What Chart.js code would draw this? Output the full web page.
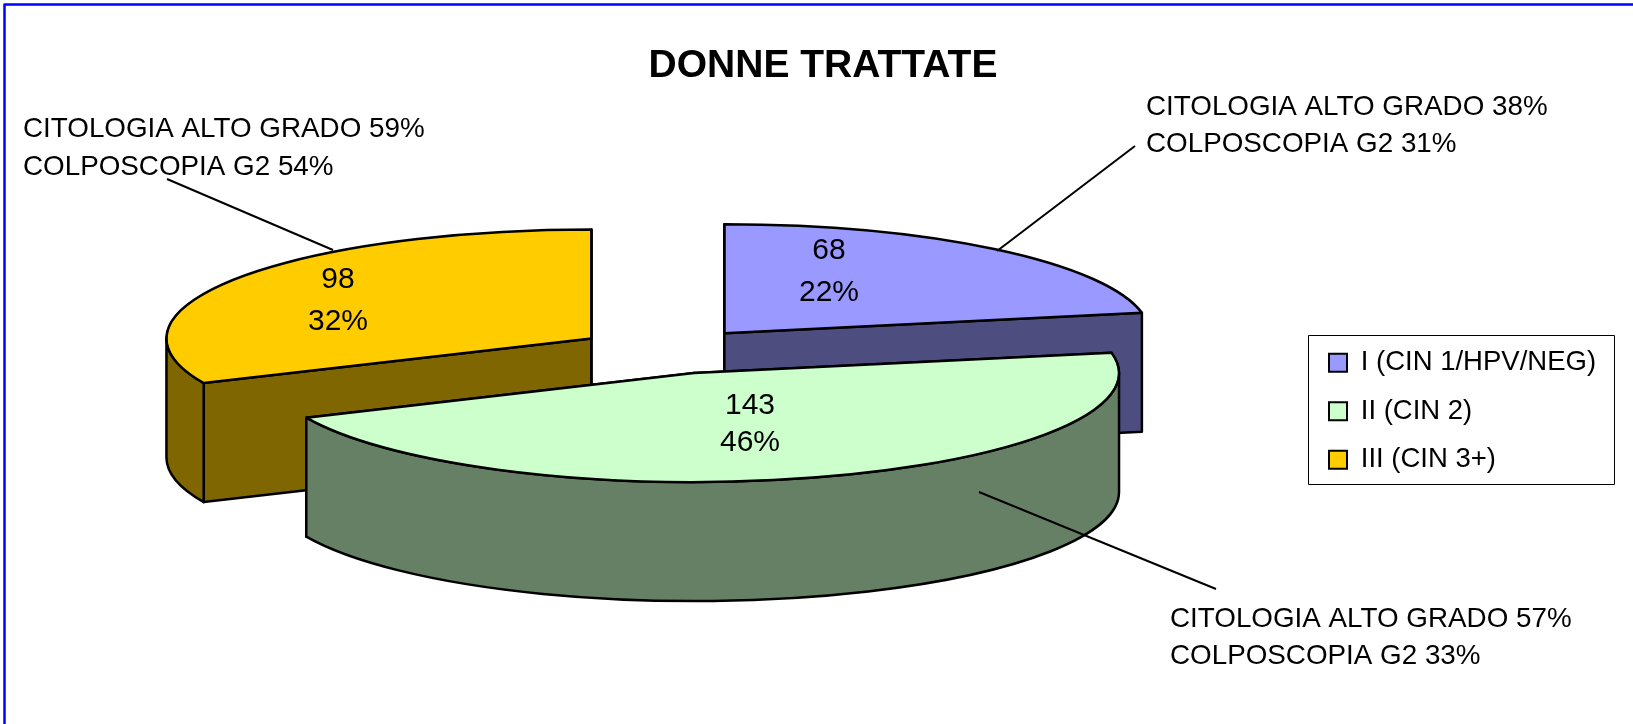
<!DOCTYPE html>
<html>
<head>
<meta charset="utf-8">
<title>Donne trattate</title>
<script src="https://cdn.jsdelivr.net/npm/chart.js@4"></script>
<style>
    html, body { margin: 0; padding: 0; background: #fff; }
    canvas { display: block; }
</style>
</head>
<body>
<canvas id="pieChart" width="1633" height="724"></canvas>
<script>
const categories = ['I (CIN 1/HPV/NEG)', 'II (CIN 2)', 'III (CIN 3+)'];
const womenTreated = [68, 143, 98];
const callouts = [
    ['CITOLOGIA ALTO GRADO 38%', 'COLPOSCOPIA G2 31%'],
    ['CITOLOGIA ALTO GRADO 57%', 'COLPOSCOPIA G2 33%'],
    ['CITOLOGIA ALTO GRADO 59%', 'COLPOSCOPIA G2 54%']
];
const chartTitle = 'DONNE TRATTATE';

const topColors = ['#9999FF', '#CCFFCC', '#FFCC00'];
const wallColors = ['#4D4D80', '#668066', '#806600'];

const FONT = '"Liberation Sans", Arial, sans-serif';
const LEGEND_SIZE = 27.5;
const CALLOUT_SIZE = 27.8;
const LABEL_SIZE = 30;

// the 3D look: flatten the circle, pull slices apart, add a wall under each
const pie3d = { cx: 667, cy: 351, squash: 0.2565, explode: 90, depth: 119 };
const legendFrame = { left: 1308, top: 335, right: 1614, bottom: 484 };

// where the free text sits, by slice
const annotations = [
    { label: [829, 251, 293], text: [1146, 115, 152], leader: [1135, 146, 997, 251] },
    { label: [750, 406, 443], text: [1170, 627, 664], leader: [979, 492, 1216, 589] },
    { label: [338, 280, 322], text: [23, 137, 175], leader: [167, 179, 333, 250] }
];

function sliceGeometry(el) {
    const mid = (el.startAngle + el.endAngle) / 2;
    return {
        x: pie3d.cx + Math.cos(mid) * pie3d.explode,
        y: pie3d.cy + Math.sin(mid) * pie3d.explode * pie3d.squash,
        rx: el.outerRadius,
        ry: el.outerRadius * pie3d.squash,
        a: el.startAngle,
        b: el.endAngle
    };
}

function paint(ctx, fill) {
    ctx.fillStyle = fill;
    ctx.fill();
    ctx.strokeStyle = '#000';
    ctx.lineWidth = 2.5;
    ctx.lineJoin = 'round';
    ctx.stroke();
}

function drawCutFace(ctx, s, angle, fill) {
    const px = s.x + Math.cos(angle) * s.rx;
    const py = s.y + Math.sin(angle) * s.ry;
    ctx.beginPath();
    ctx.moveTo(s.x, s.y);
    ctx.lineTo(px, py);
    ctx.lineTo(px, py + pie3d.depth);
    ctx.lineTo(s.x, s.y + pie3d.depth);
    ctx.closePath();
    paint(ctx, fill);
}

function drawRimFace(ctx, s, fill) {
    // only the part of the rim between 0 and PI faces the viewer
    const from = Math.max(s.a, 0);
    const to = Math.min(s.b, Math.PI);
    if (to <= from) return;
    ctx.beginPath();
    ctx.ellipse(s.x, s.y, s.rx, s.ry, 0, from, to);
    ctx.ellipse(s.x, s.y + pie3d.depth, s.rx, s.ry, 0, to, from, true);
    ctx.closePath();
    paint(ctx, fill);
}

function drawSlice(ctx, el, i) {
    const s = sliceGeometry(el);
    drawCutFace(ctx, s, s.a, wallColors[i]);
    drawCutFace(ctx, s, s.b, wallColors[i]);
    drawRimFace(ctx, s, wallColors[i]);

    ctx.save();
    ctx.translate(s.x, s.y);
    ctx.scale(1, pie3d.squash);
    ctx.translate(-el.x, -el.y);
    el.draw(ctx);
    ctx.restore();

    // outline again at even width, the squash thins the arc's own border
    ctx.beginPath();
    ctx.moveTo(s.x, s.y);
    ctx.ellipse(s.x, s.y, s.rx, s.ry, 0, s.a, s.b);
    ctx.closePath();
    ctx.strokeStyle = '#000';
    ctx.lineWidth = 2.5;
    ctx.lineJoin = 'round';
    ctx.stroke();
}

const pie3dPlugin = {
    id: 'pie3d',
    afterLayout(chart) {
        // legend items start from top, bottom stays loose so they don't wrap
        const lg = chart.legend;
        lg.left = legendFrame.left;
        lg.right = legendFrame.right;
        lg.width = legendFrame.right - legendFrame.left;
        lg.top = legendFrame.top - 7;
        lg.bottom = 724;
        lg.height = 724 - lg.top;
    },
    beforeDatasetDraw(chart, args) {
        const ctx = chart.ctx;
        const arcs = chart.getDatasetMeta(args.index).data;
        // yellow behind green, green has to go last
        [0, 2, 1].forEach(i => drawSlice(ctx, arcs[i], i));
        return false;
    },
    afterDraw(chart) {
        const ctx = chart.ctx;
        const total = womenTreated.reduce((a, b) => a + b, 0);

        ctx.save();
        ctx.strokeStyle = '#000';
        ctx.lineWidth = 1;
        ctx.strokeRect(legendFrame.left + 0.5, legendFrame.top + 0.5,
            legendFrame.right - legendFrame.left, legendFrame.bottom - legendFrame.top);

        // page frame, only top and left are inside the picture
        ctx.beginPath();
        ctx.moveTo(4.5, 724);
        ctx.lineTo(4.5, 4.5);
        ctx.lineTo(1633, 4.5);
        ctx.strokeStyle = '#0000FF';
        ctx.lineWidth = 2.5;
        ctx.stroke();

        ctx.fillStyle = '#000';
        annotations.forEach((a, i) => {
            ctx.font = LABEL_SIZE + 'px ' + FONT;
            ctx.textAlign = 'center';
            ctx.textBaseline = 'middle';
            ctx.fillText(String(womenTreated[i]), a.label[0], a.label[1]);
            ctx.fillText(Math.round(womenTreated[i] / total * 100) + '%', a.label[0], a.label[2]);

            ctx.font = CALLOUT_SIZE + 'px ' + FONT;
            ctx.textAlign = 'left';
            ctx.textBaseline = 'alphabetic';
            ctx.fillText(callouts[i][0], a.text[0], a.text[1]);
            ctx.fillText(callouts[i][1], a.text[0], a.text[2]);

            ctx.beginPath();
            ctx.moveTo(a.leader[0], a.leader[1]);
            ctx.lineTo(a.leader[2], a.leader[3]);
            ctx.strokeStyle = '#000';
            ctx.lineWidth = 2;
            ctx.stroke();
        });
        ctx.restore();
    }
};

new Chart(document.getElementById('pieChart'), {
    type: 'pie',
    data: {
        labels: categories,
        datasets: [{
            data: womenTreated,
            backgroundColor: topColors,
            borderColor: '#000',
            borderWidth: 2
        }]
    },
    options: {
        responsive: false,
        animation: false,
        radius: 425,
        layout: { padding: { left: 13 } },
        plugins: {
            tooltip: { enabled: false },
            title: {
                display: true,
                text: chartTitle,
                color: '#000',
                font: { family: FONT, size: 39, weight: 'bold' },
                padding: { top: 43, bottom: 10 }
            },
            legend: {
                position: 'right',
                align: 'start',
                labels: {
                    color: '#000',
                    boxWidth: 18,
                    boxHeight: 18,
                    padding: 21,
                    font: { family: FONT, size: LEGEND_SIZE }
                }
            }
        }
    },
    plugins: [pie3dPlugin]
});
</script>
</body>
</html>
